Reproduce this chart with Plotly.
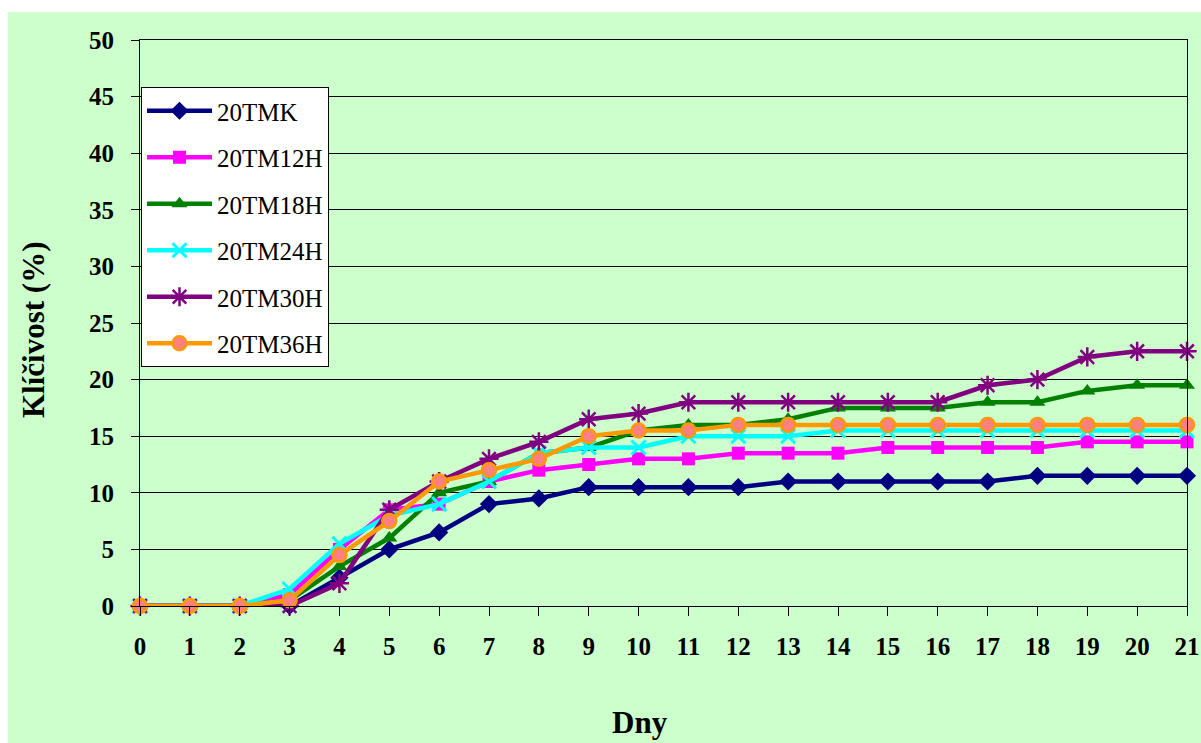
import plotly.graph_objects as go

days = list(range(0, 22))
tmk   = [0, 0, 0, 0, 2.5, 5, 6.5, 9, 9.5, 10.5, 10.5, 10.5, 10.5, 11, 11, 11, 11, 11, 11.5, 11.5, 11.5, 11.5]
tm12h = [0, 0, 0, 1, 5, 8.5, 9, 11, 12, 12.5, 13, 13, 13.5, 13.5, 13.5, 14, 14, 14, 14, 14.5, 14.5, 14.5]
tm18h = [0, 0, 0, 0.5, 3.5, 6, 10, 11, 13.5, 14, 15.5, 16, 16, 16.5, 17.5, 17.5, 17.5, 18, 18, 19, 19.5, 19.5]
tm24h = [0, 0, 0, 1.5, 5.5, 8, 9, 11, 13.5, 14, 14, 15, 15, 15, 15.5, 15.5, 15.5, 15.5, 15.5, 15.5, 15.5, 15.5]
tm30h = [0, 0, 0, 0, 2, 8.5, 11, 13, 14.5, 16.5, 17, 18, 18, 18, 18, 18, 18, 19.5, 20, 22, 22.5, 22.5]
tm36h = [0, 0, 0, 0.5, 4.5, 7.5, 11, 12, 13, 15, 15.5, 15.5, 16, 16, 16, 16, 16, 16, 16, 16, 16, 16]

series_names = ["20TMK", "20TM12H", "20TM18H", "20TM24H", "20TM30H", "20TM36H"]
y_ticks = [0, 5, 10, 15, 20, 25, 30, 35, 40, 45, 50]

styles = [
    dict(line=dict(color="#000080", width=4.5),
         marker=dict(symbol="diamond", size=14, color="#000080")),
    dict(line=dict(color="#FF00FF", width=4.5),
         marker=dict(symbol="square", size=13, color="#FF00FF")),
    dict(line=dict(color="#008000", width=4.5),
         marker=dict(symbol="triangle-up", size=14, color="#008000")),
    dict(line=dict(color="#00FFFF", width=4.5),
         marker=dict(symbol="x-thin-open", size=14, color="#00FFFF",
                     line=dict(color="#00FFFF", width=3))),
    dict(line=dict(color="#800080", width=4.5),
         marker=dict(symbol="asterisk-open", size=16, color="#800080",
                     line=dict(color="#800080", width=2.5))),
    dict(line=dict(color="#FF9900", width=4.5),
         marker=dict(symbol="circle", size=14, color="#FF8080",
                     line=dict(color="#FF9900", width=2.5))),
]

data = [tmk, tm12h, tm18h, tm24h, tm30h, tm36h]

fig = go.Figure()
for i, (name, vals) in enumerate(zip(series_names, data)):
    fig.add_trace(go.Scatter(
        x=days, y=vals, name=name, mode="lines+markers",
        legendgroup=name, cliponaxis=False, **styles[i]))

W, H = 1201, 743
L, R, T, B = 140, 14, 40, 137
pw, ph = W - L - R, H - T - B

def px_x(x):
    return (x - L) / pw

def px_y(y):
    return (H - B - y) / ph

axis_font = dict(family="Liberation Serif", size=25, color="black", weight="bold")

fig.update_layout(
    width=W, height=H,
    margin=dict(l=L, r=R, t=T, b=B, pad=0, autoexpand=False),
    paper_bgcolor="#CCFFCC",
    plot_bgcolor="#CCFFCC",
    font=dict(family="Liberation Serif", color="black"),
    showlegend=True,
    legend=dict(
        x=px_x(141), y=px_y(87), xanchor="left", yanchor="top",
        bgcolor="white", bordercolor="black", borderwidth=1,
        font=dict(family="Liberation Serif", size=25, color="black"),
        tracegroupgap=11, itemwidth=65,
        entrywidth=190, entrywidthmode="pixels",
    ),
    xaxis=dict(
        range=[0, 21], tickmode="array", tickvals=days,
        ticktext=[str(d) for d in days],
        showgrid=False, zeroline=False, automargin=False,
        showline=True, linecolor="black", linewidth=1, mirror=True,
        ticks="outside", ticklen=9, tickcolor="black",
        tickfont=axis_font, ticklabelstandoff=9,
    ),
    yaxis=dict(
        range=[0, 50], tickmode="array", tickvals=y_ticks,
        ticktext=[str(v) for v in y_ticks],
        showgrid=True, gridcolor="black", gridwidth=1, zeroline=False,
        automargin=False,
        showline=True, linecolor="black", linewidth=1, mirror=True,
        ticks="outside", ticklen=8, tickcolor="black",
        tickfont=axis_font, ticklabelstandoff=12,
    ),
    shapes=[
        dict(type="rect", xref="paper", yref="paper", layer="above",
             x0=px_x(-5), x1=px_x(W + 5), y0=px_y(12), y1=px_y(-5),
             fillcolor="white", line=dict(width=0)),
        dict(type="rect", xref="paper", yref="paper", layer="above",
             x0=px_x(-5), x1=px_x(8), y0=px_y(H + 5), y1=px_y(-5),
             fillcolor="white", line=dict(width=0)),
    ],
    annotations=[
        dict(text="Klíčivost (%)", xref="paper", yref="paper",
             x=px_x(33), y=px_y(330), textangle=-90, showarrow=False,
             xanchor="center", yanchor="middle",
             font=dict(family="Liberation Serif", size=31, color="black", weight="bold")),
        dict(text="Dny", xref="paper", yref="paper",
             x=px_x(640), y=px_y(722), showarrow=False,
             xanchor="center", yanchor="middle",
             font=dict(family="Liberation Serif", size=31, color="black", weight="bold")),
    ],
)

fig.write_html("out.html")
